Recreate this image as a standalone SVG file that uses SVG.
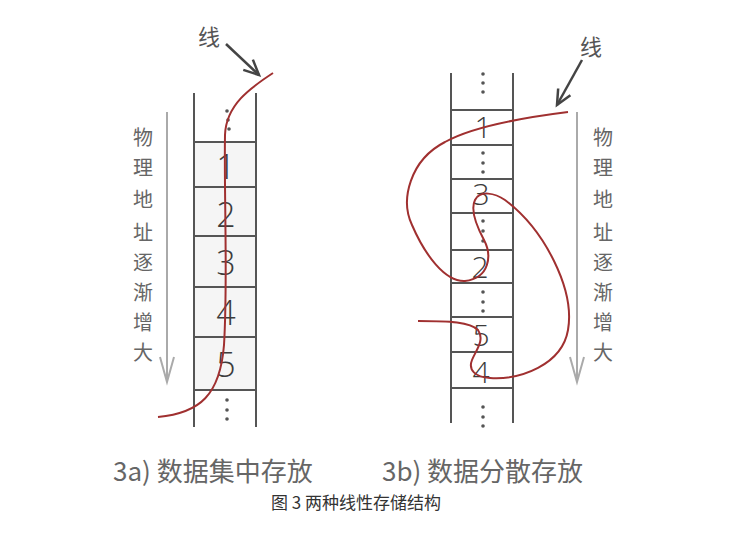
<svg xmlns="http://www.w3.org/2000/svg" width="746" height="536" viewBox="0 0 746 536">
<style>
.col{stroke:#555;stroke-width:2;fill:none}
.cell{fill:#f5f5f5;stroke:none}
.num{font-family:"Open Sans","Liberation Sans",sans-serif;font-weight:300;font-size:34px;fill:#3c3c3c;text-anchor:middle}
.numb{font-size:30px}
.dot{fill:#555}
.vt{font-family:"Noto Sans CJK SC",sans-serif;font-size:20px;fill:#666;text-anchor:middle}
.xian{font-family:"Noto Sans CJK SC",sans-serif;font-size:22px;fill:#555;text-anchor:middle}
.red{stroke:#a03030;stroke-width:2;fill:none}
.garr{stroke:#aaa;stroke-width:2;fill:none}
.darr{stroke:#444;stroke-width:2.5;fill:none}
.cap{font-family:"Noto Sans CJK SC",sans-serif;font-size:26px;fill:#666}
.fig{font-family:"Noto Sans CJK SC",sans-serif;font-size:17px;fill:#333;text-anchor:middle}
</style>
<defs>
<marker id="gh" markerUnits="userSpaceOnUse" markerWidth="30" markerHeight="20" refX="27" refY="10" orient="auto" overflow="visible">
<path d="M2,3 L27,10 L2,17" fill="none" stroke="#aaa" stroke-width="2"/>
</marker>
<marker id="dh" markerUnits="userSpaceOnUse" markerWidth="20" markerHeight="20" refX="17" refY="10" orient="auto" overflow="visible">
<path d="M2,3 L17,10 L2,17" fill="none" stroke="#444" stroke-width="2.5"/>
</marker>
</defs>

<g id="col-a">
<rect class="cell" x="194" y="142" width="62" height="248"/>
<line class="col" x1="194" y1="93" x2="194" y2="427"/>
<line class="col" x1="256" y1="93" x2="256" y2="427"/>
<line class="col" x1="194" y1="142" x2="256" y2="142"/>
<line class="col" x1="194" y1="187" x2="256" y2="187"/>
<line class="col" x1="194" y1="236" x2="256" y2="236"/>
<line class="col" x1="194" y1="287" x2="256" y2="287"/>
<line class="col" x1="194" y1="337" x2="256" y2="337"/>
<line class="col" x1="194" y1="390" x2="256" y2="390"/>
<circle class="dot" cx="227" cy="111" r="1.8"/>
<circle class="dot" cx="228" cy="120" r="1.8"/>
<circle class="dot" cx="229" cy="129" r="1.8"/>
<text class="num" x="226" y="179">1</text>
<text class="num" x="226" y="227">2</text>
<text class="num" x="226" y="275">3</text>
<text class="num" x="226" y="325">4</text>
<text class="num" x="226" y="377">5</text>
<circle class="dot" cx="227" cy="400" r="1.8"/>
<circle class="dot" cx="227" cy="410" r="1.8"/>
<circle class="dot" cx="227" cy="419" r="1.8"/>
</g>

<g id="col-b">
<line class="col" x1="451" y1="73" x2="451" y2="423"/>
<line class="col" x1="513" y1="73" x2="513" y2="423"/>
<line class="col" x1="451" y1="110" x2="513" y2="110"/>
<line class="col" x1="451" y1="145" x2="513" y2="145"/>
<line class="col" x1="451" y1="179" x2="513" y2="179"/>
<line class="col" x1="451" y1="213" x2="513" y2="213"/>
<line class="col" x1="451" y1="250" x2="513" y2="250"/>
<line class="col" x1="451" y1="283" x2="513" y2="283"/>
<line class="col" x1="451" y1="317" x2="513" y2="317"/>
<line class="col" x1="451" y1="352" x2="513" y2="352"/>
<line class="col" x1="451" y1="388" x2="513" y2="388"/>
<circle class="dot" cx="483" cy="74" r="1.8"/>
<circle class="dot" cx="483" cy="83" r="1.8"/>
<circle class="dot" cx="483" cy="92" r="1.8"/>
<text class="num numb" x="483" y="138">1</text>
<circle class="dot" cx="483" cy="153" r="1.8"/>
<circle class="dot" cx="483" cy="163" r="1.8"/>
<circle class="dot" cx="483" cy="172" r="1.8"/>
<text class="num numb" x="481" y="205">3</text>
<circle class="dot" cx="483" cy="221" r="1.8"/>
<circle class="dot" cx="483" cy="231" r="1.8"/>
<circle class="dot" cx="483" cy="241" r="1.8"/>
<text class="num numb" x="480" y="278">2</text>
<circle class="dot" cx="483" cy="292" r="1.8"/>
<circle class="dot" cx="483" cy="302" r="1.8"/>
<circle class="dot" cx="483" cy="311" r="1.8"/>
<text class="num numb" x="481" y="346">5</text>
<text class="num numb" x="481" y="383">4</text>
<circle class="dot" cx="483" cy="407" r="1.8"/>
<circle class="dot" cx="483" cy="417" r="1.8"/>
<circle class="dot" cx="483" cy="426" r="1.8"/>
</g>

<g id="label-a">
<text class="vt" x="143" y="145">物</text>
<text class="vt" x="143" y="175">理</text>
<text class="vt" x="143" y="207">地</text>
<text class="vt" x="143" y="240">址</text>
<text class="vt" x="143" y="270">逐</text>
<text class="vt" x="143" y="300">渐</text>
<text class="vt" x="143" y="330">增</text>
<text class="vt" x="143" y="360">大</text>
</g>
<g id="label-b">
<text class="vt" x="603" y="145">物</text>
<text class="vt" x="603" y="175">理</text>
<text class="vt" x="603" y="207">地</text>
<text class="vt" x="603" y="240">址</text>
<text class="vt" x="603" y="270">逐</text>
<text class="vt" x="603" y="300">渐</text>
<text class="vt" x="603" y="330">增</text>
<text class="vt" x="603" y="360">大</text>
</g>
<g id="xian-a"><text class="xian" x="209" y="45">线</text></g>
<g id="xian-b"><text class="xian" x="591" y="55">线</text></g>

<g id="connectors">
<line class="garr" x1="167" y1="112" x2="167" y2="382" marker-end="url(#gh)"/>
<line class="garr" x1="577" y1="112" x2="577" y2="382" marker-end="url(#gh)"/>
<line class="darr" x1="226" y1="44" x2="259" y2="75" marker-end="url(#dh)"/>
<line class="darr" x1="582" y1="60" x2="557" y2="105" marker-end="url(#dh)"/>
<path class="red" d="M273,73 C250,88 226,105 225,135 C224,200 228,280 224,345 C220,395 200,413 158,417"/>
<path class="red" d="M568,112 C520,118 470,128 445,142 C410,160 400,200 412,225 C425,255 445,282 465,281 C490,278 492,255 484,240 C476,225 470,210 475,200 C480,190 495,193 505,200 C545,230 575,290 568,330 C562,365 520,380 490,378 C475,377 468,370 472,360 C476,350 485,340 478,330 C470,322 450,321 418,321"/>
</g>

<g id="captions">
<text class="cap" x="113" y="481">3a) 数据集中存放</text>
<text class="cap" x="382" y="481">3b) 数据分散存放</text>
<text class="fig" x="356" y="509">图 3 两种线性存储结构</text>
</g>
</svg>
